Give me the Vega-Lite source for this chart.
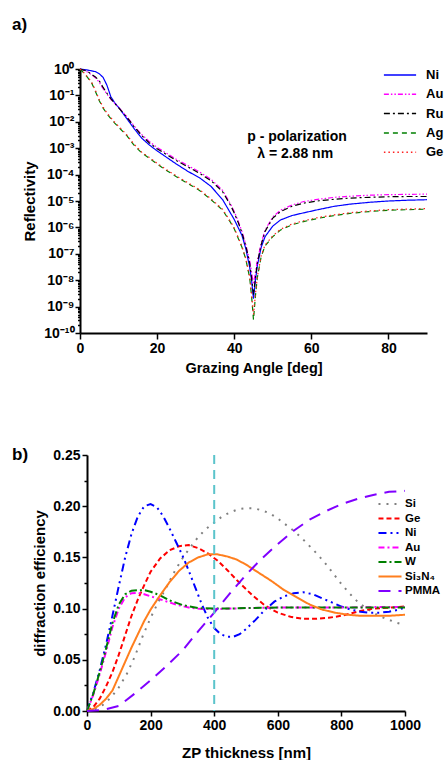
{
"$schema": "https://vega.github.io/schema/vega-lite/v6.json",
"padding": {"left": 12, "top": 16, "right": 0, "bottom": 0},
"background": "white",
"spacing": 71,
"config": {
  "view": {"stroke": null},
  "font": "Liberation Sans",
  "axis": {"grid": false, "domainColor": "black", "domainWidth": 2, "tickColor": "black", "tickWidth": 1.5, "labelColor": "black", "labelFont": "Liberation Sans", "labelFontWeight": "bold", "labelFontSize": 14, "titleColor": "black", "titleFont": "Liberation Sans", "titleFontWeight": "bold", "titleFontSize": 14.5, "labelFlush": false, "labelOverlap": false},
  "legend": {"labelFont": "Liberation Sans", "labelColor": "black", "labelFontWeight": "bold"},
  "title": {"font": "Liberation Sans", "fontWeight": "bold", "fontSize": 17, "color": "black", "anchor": "start", "frame": "group", "baseline": "alphabetic"}
},
"resolve": {"scale": {"color": "independent", "strokeDash": "independent", "x": "independent", "y": "independent"}, "legend": {"color": "independent", "strokeDash": "independent"}},
"vconcat": [
{
  "width": 347, "height": 264,
  "title": {"text": "a)", "dx": -68, "offset": 28},
  "layer": [
    {
      "data": {"values": [
        {"metal":"Ni","angle":0,"R":1},{"metal":"Ni","angle":1,"R":0.955},{"metal":"Ni","angle":2,"R":0.912},{"metal":"Ni","angle":3,"R":0.851},{"metal":"Ni","angle":4,"R":0.794},{"metal":"Ni","angle":5,"R":0.661},{"metal":"Ni","angle":6,"R":0.479},{"metal":"Ni","angle":7,"R":0.24},{"metal":"Ni","angle":8,"R":0.0891},{"metal":"Ni","angle":9,"R":0.0525},{"metal":"Ni","angle":10,"R":0.0355},{"metal":"Ni","angle":12,"R":0.0141},{"metal":"Ni","angle":14,"R":0.00562},{"metal":"Ni","angle":16,"R":0.0024},{"metal":"Ni","angle":18,"R":0.00132},{"metal":"Ni","angle":20,"R":7.94e-4},{"metal":"Ni","angle":22,"R":5.01e-4},{"metal":"Ni","angle":25,"R":2.51e-4},{"metal":"Ni","angle":28,"R":1.32e-4},{"metal":"Ni","angle":31,"R":7.59e-5},{"metal":"Ni","angle":34,"R":3.55e-5},{"metal":"Ni","angle":37,"R":1.12e-5},{"metal":"Ni","angle":39,"R":3.55e-6},{"metal":"Ni","angle":40,"R":2.0e-6},{"metal":"Ni","angle":41,"R":1.0e-6},{"metal":"Ni","angle":42,"R":5.01e-7},{"metal":"Ni","angle":43,"R":1.58e-7},{"metal":"Ni","angle":44,"R":3.16e-8},{"metal":"Ni","angle":44.5,"R":1.0e-8},{"metal":"Ni","angle":45,"R":2.0e-9},{"metal":"Ni","angle":45.5,"R":1.0e-8},{"metal":"Ni","angle":46,"R":3.55e-8},{"metal":"Ni","angle":47,"R":1.78e-7},{"metal":"Ni","angle":48,"R":4.47e-7},{"metal":"Ni","angle":50,"R":1.12e-6},{"metal":"Ni","angle":52,"R":1.91e-6},{"metal":"Ni","angle":55,"R":2.82e-6},{"metal":"Ni","angle":58,"R":3.55e-6},{"metal":"Ni","angle":62,"R":4.79e-6},{"metal":"Ni","angle":66,"R":6.31e-6},{"metal":"Ni","angle":70,"R":7.59e-6},{"metal":"Ni","angle":75,"R":8.91e-6},{"metal":"Ni","angle":80,"R":1.0e-5},{"metal":"Ni","angle":85,"R":1.07e-5},{"metal":"Ni","angle":90,"R":1.12e-5},
        {"metal":"Au","angle":0,"R":1},{"metal":"Au","angle":1,"R":0.891},{"metal":"Au","angle":2,"R":0.759},{"metal":"Au","angle":3,"R":0.603},{"metal":"Au","angle":4,"R":0.468},{"metal":"Au","angle":5,"R":0.316},{"metal":"Au","angle":6,"R":0.178},{"metal":"Au","angle":7,"R":0.112},{"metal":"Au","angle":8,"R":0.0708},{"metal":"Au","angle":9,"R":0.0501},{"metal":"Au","angle":10,"R":0.0355},{"metal":"Au","angle":12,"R":0.0166},{"metal":"Au","angle":14,"R":0.00708},{"metal":"Au","angle":16,"R":0.00331},{"metal":"Au","angle":18,"R":0.00178},{"metal":"Au","angle":20,"R":0.00107},{"metal":"Au","angle":22,"R":7.08e-4},{"metal":"Au","angle":25,"R":3.8e-4},{"metal":"Au","angle":28,"R":2.19e-4},{"metal":"Au","angle":31,"R":1.26e-4},{"metal":"Au","angle":34,"R":6.61e-5},{"metal":"Au","angle":37,"R":2.51e-5},{"metal":"Au","angle":39,"R":7.94e-6},{"metal":"Au","angle":40,"R":3.98e-6},{"metal":"Au","angle":41,"R":1.78e-6},{"metal":"Au","angle":42,"R":7.08e-7},{"metal":"Au","angle":43,"R":2.24e-7},{"metal":"Au","angle":44,"R":5.62e-8},{"metal":"Au","angle":44.5,"R":2.0e-8},{"metal":"Au","angle":45,"R":7.08e-9},{"metal":"Au","angle":45.5,"R":2.0e-8},{"metal":"Au","angle":46,"R":5.62e-8},{"metal":"Au","angle":47,"R":2.51e-7},{"metal":"Au","angle":48,"R":7.94e-7},{"metal":"Au","angle":50,"R":2.51e-6},{"metal":"Au","angle":52,"R":4.47e-6},{"metal":"Au","angle":55,"R":7.08e-6},{"metal":"Au","angle":58,"R":9.55e-6},{"metal":"Au","angle":62,"R":1.17e-5},{"metal":"Au","angle":66,"R":1.38e-5},{"metal":"Au","angle":70,"R":1.51e-5},{"metal":"Au","angle":75,"R":1.66e-5},{"metal":"Au","angle":80,"R":1.74e-5},{"metal":"Au","angle":85,"R":1.78e-5},{"metal":"Au","angle":90,"R":1.82e-5},
        {"metal":"Ru","angle":0,"R":1},{"metal":"Ru","angle":1,"R":0.912},{"metal":"Ru","angle":2,"R":0.794},{"metal":"Ru","angle":3,"R":0.631},{"metal":"Ru","angle":4,"R":0.501},{"metal":"Ru","angle":5,"R":0.355},{"metal":"Ru","angle":6,"R":0.2},{"metal":"Ru","angle":7,"R":0.12},{"metal":"Ru","angle":8,"R":0.0759},{"metal":"Ru","angle":9,"R":0.0501},{"metal":"Ru","angle":10,"R":0.0347},{"metal":"Ru","angle":12,"R":0.0158},{"metal":"Ru","angle":14,"R":0.00661},{"metal":"Ru","angle":16,"R":0.00302},{"metal":"Ru","angle":18,"R":0.00158},{"metal":"Ru","angle":20,"R":9.55e-4},{"metal":"Ru","angle":22,"R":6.31e-4},{"metal":"Ru","angle":25,"R":3.39e-4},{"metal":"Ru","angle":28,"R":1.95e-4},{"metal":"Ru","angle":31,"R":1.12e-4},{"metal":"Ru","angle":34,"R":5.89e-5},{"metal":"Ru","angle":37,"R":2.24e-5},{"metal":"Ru","angle":39,"R":7.08e-6},{"metal":"Ru","angle":40,"R":3.55e-6},{"metal":"Ru","angle":41,"R":1.58e-6},{"metal":"Ru","angle":42,"R":6.31e-7},{"metal":"Ru","angle":43,"R":2.0e-7},{"metal":"Ru","angle":44,"R":4.47e-8},{"metal":"Ru","angle":44.5,"R":1.26e-8},{"metal":"Ru","angle":45,"R":2.82e-9},{"metal":"Ru","angle":45.5,"R":1.26e-8},{"metal":"Ru","angle":46,"R":4.47e-8},{"metal":"Ru","angle":47,"R":2.24e-7},{"metal":"Ru","angle":48,"R":7.08e-7},{"metal":"Ru","angle":50,"R":2.24e-6},{"metal":"Ru","angle":52,"R":3.98e-6},{"metal":"Ru","angle":55,"R":6.31e-6},{"metal":"Ru","angle":58,"R":8.32e-6},{"metal":"Ru","angle":62,"R":1.02e-5},{"metal":"Ru","angle":66,"R":1.17e-5},{"metal":"Ru","angle":70,"R":1.29e-5},{"metal":"Ru","angle":75,"R":1.38e-5},{"metal":"Ru","angle":80,"R":1.45e-5},{"metal":"Ru","angle":85,"R":1.48e-5},{"metal":"Ru","angle":90,"R":1.48e-5},
        {"metal":"Ag","angle":0,"R":1},{"metal":"Ag","angle":1,"R":0.708},{"metal":"Ag","angle":2,"R":0.468},{"metal":"Ag","angle":3,"R":0.302},{"metal":"Ag","angle":4,"R":0.141},{"metal":"Ag","angle":5,"R":0.0631},{"metal":"Ag","angle":6,"R":0.0331},{"metal":"Ag","angle":7,"R":0.02},{"metal":"Ag","angle":8,"R":0.0132},{"metal":"Ag","angle":9,"R":0.00891},{"metal":"Ag","angle":10,"R":0.00631},{"metal":"Ag","angle":12,"R":0.00316},{"metal":"Ag","angle":14,"R":0.00132},{"metal":"Ag","angle":16,"R":6.61e-4},{"metal":"Ag","angle":18,"R":4.17e-4},{"metal":"Ag","angle":20,"R":2.51e-4},{"metal":"Ag","angle":22,"R":1.58e-4},{"metal":"Ag","angle":25,"R":8.32e-5},{"metal":"Ag","angle":28,"R":4.57e-5},{"metal":"Ag","angle":31,"R":2.51e-5},{"metal":"Ag","angle":34,"R":1.12e-5},{"metal":"Ag","angle":37,"R":4.47e-6},{"metal":"Ag","angle":39,"R":1.58e-6},{"metal":"Ag","angle":40,"R":8.91e-7},{"metal":"Ag","angle":41,"R":3.98e-7},{"metal":"Ag","angle":42,"R":1.78e-7},{"metal":"Ag","angle":43,"R":6.31e-8},{"metal":"Ag","angle":44,"R":1.26e-8},{"metal":"Ag","angle":44.5,"R":2.51e-9},{"metal":"Ag","angle":45,"R":3.16e-10},{"metal":"Ag","angle":45.5,"R":2.51e-9},{"metal":"Ag","angle":46,"R":1.26e-8},{"metal":"Ag","angle":47,"R":7.94e-8},{"metal":"Ag","angle":48,"R":2.0e-7},{"metal":"Ag","angle":50,"R":4.47e-7},{"metal":"Ag","angle":52,"R":7.94e-7},{"metal":"Ag","angle":55,"R":1.26e-6},{"metal":"Ag","angle":58,"R":1.66e-6},{"metal":"Ag","angle":62,"R":2.24e-6},{"metal":"Ag","angle":66,"R":2.82e-6},{"metal":"Ag","angle":70,"R":3.39e-6},{"metal":"Ag","angle":75,"R":3.98e-6},{"metal":"Ag","angle":80,"R":4.47e-6},{"metal":"Ag","angle":85,"R":4.68e-6},{"metal":"Ag","angle":90,"R":4.9e-6},
        {"metal":"Ge","angle":0,"R":1},{"metal":"Ge","angle":1,"R":0.724},{"metal":"Ge","angle":2,"R":0.49},{"metal":"Ge","angle":3,"R":0.32},{"metal":"Ge","angle":4,"R":0.155},{"metal":"Ge","angle":5,"R":0.069},{"metal":"Ge","angle":6,"R":0.036},{"metal":"Ge","angle":7,"R":0.0215},{"metal":"Ge","angle":8,"R":0.0142},{"metal":"Ge","angle":9,"R":0.0096},{"metal":"Ge","angle":10,"R":0.0068},{"metal":"Ge","angle":12,"R":0.0034},{"metal":"Ge","angle":14,"R":0.00142},{"metal":"Ge","angle":16,"R":7.1e-4},{"metal":"Ge","angle":18,"R":4.45e-4},{"metal":"Ge","angle":20,"R":2.68e-4},{"metal":"Ge","angle":22,"R":1.69e-4},{"metal":"Ge","angle":25,"R":8.9e-5},{"metal":"Ge","angle":28,"R":4.9e-5},{"metal":"Ge","angle":31,"R":2.69e-5},{"metal":"Ge","angle":34,"R":1.2e-5},{"metal":"Ge","angle":37,"R":4.8e-6},{"metal":"Ge","angle":39,"R":1.7e-6},{"metal":"Ge","angle":40,"R":9.5e-7},{"metal":"Ge","angle":41,"R":4.3e-7},{"metal":"Ge","angle":42,"R":1.9e-7},{"metal":"Ge","angle":43,"R":6.8e-8},{"metal":"Ge","angle":44,"R":1.35e-8},{"metal":"Ge","angle":44.5,"R":2.9e-9},{"metal":"Ge","angle":45,"R":5.0e-10},{"metal":"Ge","angle":45.5,"R":2.9e-9},{"metal":"Ge","angle":46,"R":1.35e-8},{"metal":"Ge","angle":47,"R":8.5e-8},{"metal":"Ge","angle":48,"R":2.15e-7},{"metal":"Ge","angle":50,"R":4.8e-7},{"metal":"Ge","angle":52,"R":8.5e-7},{"metal":"Ge","angle":55,"R":1.35e-6},{"metal":"Ge","angle":58,"R":1.78e-6},{"metal":"Ge","angle":62,"R":2.4e-6},{"metal":"Ge","angle":66,"R":3.0e-6},{"metal":"Ge","angle":70,"R":3.6e-6},{"metal":"Ge","angle":75,"R":4.2e-6},{"metal":"Ge","angle":80,"R":4.7e-6},{"metal":"Ge","angle":85,"R":4.95e-6},{"metal":"Ge","angle":90,"R":5.15e-6}
      ]},
      "mark": {"type": "line", "strokeWidth": 1.2},
      "encoding": {
        "x": {"field": "angle", "type": "quantitative", "scale": {"domain": [0, 90], "nice": false},
          "axis": {"title": "Grazing Angle [deg]", "values": [0,10,20,30,40,50,60,70,80,90], "format": "d", "labelExpr": "datum.value % 20 === 0 ? datum.label : ''", "tickSize": {"condition": {"test": "datum.value % 20 === 0", "value": 6}, "value": 3}, "labelPadding": 2, "titlePadding": 6, "titleFontSize": 14.5}},
        "y": {"field": "R", "type": "quantitative", "scale": {"type": "log", "domain": [1e-10, 1], "nice": false},
          "axis": {"title": "Reflectivity", "titleFontSize": 15, "titlePadding": 6, "labelPadding": 1,
            "values": [1e-10,2e-10,3e-10,4e-10,5e-10,6e-10,7e-10,8e-10,9e-10,1e-9,2e-9,3e-9,4e-9,5e-9,6e-9,7e-9,8e-9,9e-9,1e-8,2e-8,3e-8,4e-8,5e-8,6e-8,7e-8,8e-8,9e-8,1e-7,2e-7,3e-7,4e-7,5e-7,6e-7,7e-7,8e-7,9e-7,1e-6,2e-6,3e-6,4e-6,5e-6,6e-6,7e-6,8e-6,9e-6,1e-5,2e-5,3e-5,4e-5,5e-5,6e-5,7e-5,8e-5,9e-5,1e-4,2e-4,3e-4,4e-4,5e-4,6e-4,7e-4,8e-4,9e-4,1e-3,2e-3,3e-3,4e-3,5e-3,6e-3,7e-3,8e-3,9e-3,1e-2,2e-2,3e-2,4e-2,5e-2,6e-2,7e-2,8e-2,9e-2,0.1,0.2,0.3,0.4,0.5,0.6,0.7,0.8,0.9,1],
            "labelExpr": "abs(log(datum.value)/LN10 - round(log(datum.value)/LN10)) < 0.01 ? ['10⁰','10⁻¹','10⁻²','10⁻³','10⁻⁴','10⁻⁵','10⁻⁶','10⁻⁷','10⁻⁸','10⁻⁹','10⁻¹⁰'][-round(log(datum.value)/LN10)] : ''",
            "tickSize": {"condition": {"test": "abs(log(datum.value)/LN10 - round(log(datum.value)/LN10)) < 0.01", "value": 5}, "value": 2.5}}},
        "color": {"field": "metal", "type": "nominal",
          "scale": {"domain": ["Ni","Au","Ru","Ag","Ge"], "range": ["#0000ff","#ff00ff","#000000","#008000","#ff2020"]},
          "legend": {"title": null, "orient": "none", "legendX": 312, "legendY": -2, "symbolType": "M-2.3,0L2.3,0", "symbolSize": 196, "symbolStrokeWidth": 1.5, "labelFontSize": 13, "labelOffset": 18, "rowPadding": 4.3, "padding": 0}},
        "strokeDash": {"field": "metal", "type": "nominal",
          "scale": {"domain": ["Ni","Au","Ru","Ag","Ge"], "range": [[1,0],[5,2,1.5,2,1.5,2],[6,3,2,3],[5,4],[1.5,3]]},
          "legend": {"title": null, "orient": "none", "legendX": 312, "legendY": -2, "symbolType": "M-2.3,0L2.3,0", "symbolSize": 196, "symbolStrokeWidth": 1.5, "labelFontSize": 13, "labelOffset": 18, "rowPadding": 4.3, "padding": 0}}
      }
    },
    {
      "data": {"values": [{"angle": 56.3, "R": 0.00186, "label": "p - polarization"}, {"angle": 55.8, "R": 0.000427, "label": "λ = 2.88 nm"}]},
      "mark": {"type": "text", "fontSize": 14, "fontWeight": "bold", "font": "Liberation Sans", "baseline": "alphabetic", "align": "center", "color": "black"},
      "encoding": {
        "x": {"field": "angle", "type": "quantitative"},
        "y": {"field": "R", "type": "quantitative"},
        "text": {"field": "label"}
      }
    }
  ]
},
{
  "width": 325, "height": 256,
  "title": {"text": "b)", "dx": -68, "offset": -6, "dy": 10},
  "layer": [
    {
      "data": {"values": [
        {"m":"Si","t":0,"e":0},{"m":"Si","t":25,"e":0.002},{"m":"Si","t":50,"e":0.006},{"m":"Si","t":75,"e":0.013},{"m":"Si","t":100,"e":0.023},{"m":"Si","t":125,"e":0.036},{"m":"Si","t":150,"e":0.053},{"m":"Si","t":175,"e":0.073},{"m":"Si","t":200,"e":0.091},{"m":"Si","t":225,"e":0.107},{"m":"Si","t":250,"e":0.121},{"m":"Si","t":275,"e":0.136},{"m":"Si","t":300,"e":0.149},{"m":"Si","t":325,"e":0.16},{"m":"Si","t":350,"e":0.17},{"m":"Si","t":375,"e":0.178},{"m":"Si","t":400,"e":0.184},{"m":"Si","t":425,"e":0.19},{"m":"Si","t":450,"e":0.194},{"m":"Si","t":475,"e":0.197},{"m":"Si","t":500,"e":0.198},{"m":"Si","t":525,"e":0.198},{"m":"Si","t":550,"e":0.196},{"m":"Si","t":575,"e":0.193},{"m":"Si","t":600,"e":0.188},{"m":"Si","t":625,"e":0.182},{"m":"Si","t":650,"e":0.176},{"m":"Si","t":675,"e":0.169},{"m":"Si","t":700,"e":0.161},{"m":"Si","t":725,"e":0.153},{"m":"Si","t":750,"e":0.144},{"m":"Si","t":775,"e":0.134},{"m":"Si","t":800,"e":0.124},{"m":"Si","t":825,"e":0.115},{"m":"Si","t":850,"e":0.107},{"m":"Si","t":875,"e":0.101},{"m":"Si","t":900,"e":0.096},{"m":"Si","t":925,"e":0.092},{"m":"Si","t":950,"e":0.089},{"m":"Si","t":975,"e":0.086},{"m":"Si","t":1000,"e":0.084},
        {"m":"Ge","t":0,"e":0},{"m":"Ge","t":20,"e":0.004},{"m":"Ge","t":40,"e":0.012},{"m":"Ge","t":60,"e":0.024},{"m":"Ge","t":80,"e":0.038},{"m":"Ge","t":100,"e":0.055},{"m":"Ge","t":120,"e":0.074},{"m":"Ge","t":140,"e":0.093},{"m":"Ge","t":160,"e":0.109},{"m":"Ge","t":180,"e":0.123},{"m":"Ge","t":200,"e":0.136},{"m":"Ge","t":230,"e":0.149},{"m":"Ge","t":260,"e":0.157},{"m":"Ge","t":290,"e":0.161},{"m":"Ge","t":320,"e":0.162},{"m":"Ge","t":350,"e":0.159},{"m":"Ge","t":380,"e":0.154},{"m":"Ge","t":410,"e":0.147},{"m":"Ge","t":440,"e":0.138},{"m":"Ge","t":480,"e":0.125},{"m":"Ge","t":520,"e":0.113},{"m":"Ge","t":560,"e":0.103},{"m":"Ge","t":600,"e":0.096},{"m":"Ge","t":640,"e":0.092},{"m":"Ge","t":680,"e":0.09},{"m":"Ge","t":720,"e":0.09},{"m":"Ge","t":760,"e":0.091},{"m":"Ge","t":800,"e":0.093},{"m":"Ge","t":850,"e":0.097},{"m":"Ge","t":900,"e":0.1},{"m":"Ge","t":950,"e":0.101},{"m":"Ge","t":1000,"e":0.102},
        {"m":"Ni","t":0,"e":0},{"m":"Ni","t":20,"e":0.018},{"m":"Ni","t":40,"e":0.04},{"m":"Ni","t":60,"e":0.065},{"m":"Ni","t":80,"e":0.093},{"m":"Ni","t":100,"e":0.122},{"m":"Ni","t":120,"e":0.15},{"m":"Ni","t":140,"e":0.173},{"m":"Ni","t":160,"e":0.19},{"m":"Ni","t":180,"e":0.2},{"m":"Ni","t":200,"e":0.202},{"m":"Ni","t":220,"e":0.199},{"m":"Ni","t":240,"e":0.19},{"m":"Ni","t":260,"e":0.178},{"m":"Ni","t":280,"e":0.165},{"m":"Ni","t":300,"e":0.152},{"m":"Ni","t":320,"e":0.137},{"m":"Ni","t":340,"e":0.121},{"m":"Ni","t":360,"e":0.105},{"m":"Ni","t":380,"e":0.091},{"m":"Ni","t":400,"e":0.081},{"m":"Ni","t":420,"e":0.075},{"m":"Ni","t":440,"e":0.0725},{"m":"Ni","t":460,"e":0.0725},{"m":"Ni","t":480,"e":0.075},{"m":"Ni","t":500,"e":0.08},{"m":"Ni","t":530,"e":0.089},{"m":"Ni","t":560,"e":0.099},{"m":"Ni","t":590,"e":0.107},{"m":"Ni","t":620,"e":0.112},{"m":"Ni","t":650,"e":0.115},{"m":"Ni","t":680,"e":0.116},{"m":"Ni","t":710,"e":0.114},{"m":"Ni","t":740,"e":0.11},{"m":"Ni","t":770,"e":0.106},{"m":"Ni","t":800,"e":0.102},{"m":"Ni","t":830,"e":0.099},{"m":"Ni","t":860,"e":0.097},{"m":"Ni","t":890,"e":0.096},{"m":"Ni","t":920,"e":0.096},{"m":"Ni","t":950,"e":0.097},{"m":"Ni","t":980,"e":0.099},{"m":"Ni","t":1000,"e":0.101},
        {"m":"Au","t":0,"e":0},{"m":"Au","t":20,"e":0.016},{"m":"Au","t":40,"e":0.036},{"m":"Au","t":60,"e":0.058},{"m":"Au","t":80,"e":0.082},{"m":"Au","t":100,"e":0.1},{"m":"Au","t":120,"e":0.111},{"m":"Au","t":140,"e":0.115},{"m":"Au","t":160,"e":0.1155},{"m":"Au","t":180,"e":0.114},{"m":"Au","t":200,"e":0.112},{"m":"Au","t":240,"e":0.108},{"m":"Au","t":280,"e":0.104},{"m":"Au","t":320,"e":0.101},{"m":"Au","t":360,"e":0.0995},{"m":"Au","t":400,"e":0.0995},{"m":"Au","t":450,"e":0.1},{"m":"Au","t":500,"e":0.1005},{"m":"Au","t":600,"e":0.101},{"m":"Au","t":700,"e":0.101},{"m":"Au","t":800,"e":0.101},{"m":"Au","t":900,"e":0.1015},{"m":"Au","t":1000,"e":0.1015},
        {"m":"W","t":0,"e":0},{"m":"W","t":20,"e":0.017},{"m":"W","t":40,"e":0.038},{"m":"W","t":60,"e":0.061},{"m":"W","t":80,"e":0.086},{"m":"W","t":100,"e":0.104},{"m":"W","t":120,"e":0.114},{"m":"W","t":140,"e":0.1175},{"m":"W","t":160,"e":0.118},{"m":"W","t":180,"e":0.118},{"m":"W","t":200,"e":0.1165},{"m":"W","t":230,"e":0.113},{"m":"W","t":260,"e":0.108},{"m":"W","t":300,"e":0.1035},{"m":"W","t":350,"e":0.1005},{"m":"W","t":400,"e":0.1},{"m":"W","t":450,"e":0.1},{"m":"W","t":500,"e":0.1005},{"m":"W","t":600,"e":0.101},{"m":"W","t":700,"e":0.101},{"m":"W","t":800,"e":0.101},{"m":"W","t":900,"e":0.101},{"m":"W","t":1000,"e":0.101},
        {"m":"Si₃N₄","t":0,"e":0},{"m":"Si₃N₄","t":20,"e":0.002},{"m":"Si₃N₄","t":40,"e":0.006},{"m":"Si₃N₄","t":60,"e":0.012},{"m":"Si₃N₄","t":80,"e":0.02},{"m":"Si₃N₄","t":100,"e":0.034},{"m":"Si₃N₄","t":120,"e":0.048},{"m":"Si₃N₄","t":140,"e":0.062},{"m":"Si₃N₄","t":160,"e":0.075},{"m":"Si₃N₄","t":180,"e":0.088},{"m":"Si₃N₄","t":200,"e":0.099},{"m":"Si₃N₄","t":230,"e":0.113},{"m":"Si₃N₄","t":260,"e":0.126},{"m":"Si₃N₄","t":290,"e":0.137},{"m":"Si₃N₄","t":320,"e":0.145},{"m":"Si₃N₄","t":350,"e":0.15},{"m":"Si₃N₄","t":380,"e":0.153},{"m":"Si₃N₄","t":410,"e":0.153},{"m":"Si₃N₄","t":440,"e":0.151},{"m":"Si₃N₄","t":470,"e":0.148},{"m":"Si₃N₄","t":500,"e":0.143},{"m":"Si₃N₄","t":540,"e":0.135},{"m":"Si₃N₄","t":580,"e":0.127},{"m":"Si₃N₄","t":620,"e":0.118},{"m":"Si₃N₄","t":660,"e":0.111},{"m":"Si₃N₄","t":700,"e":0.104},{"m":"Si₃N₄","t":740,"e":0.099},{"m":"Si₃N₄","t":780,"e":0.096},{"m":"Si₃N₄","t":820,"e":0.094},{"m":"Si₃N₄","t":860,"e":0.093},{"m":"Si₃N₄","t":900,"e":0.093},{"m":"Si₃N₄","t":950,"e":0.093},{"m":"Si₃N₄","t":1000,"e":0.094},
        {"m":"PMMA","t":0,"e":0},{"m":"PMMA","t":50,"e":0.001},{"m":"PMMA","t":100,"e":0.005},{"m":"PMMA","t":150,"e":0.017},{"m":"PMMA","t":200,"e":0.03},{"m":"PMMA","t":250,"e":0.044},{"m":"PMMA","t":300,"e":0.059},{"m":"PMMA","t":350,"e":0.078},{"m":"PMMA","t":400,"e":0.096},{"m":"PMMA","t":450,"e":0.115},{"m":"PMMA","t":500,"e":0.133},{"m":"PMMA","t":550,"e":0.149},{"m":"PMMA","t":600,"e":0.163},{"m":"PMMA","t":650,"e":0.176},{"m":"PMMA","t":700,"e":0.187},{"m":"PMMA","t":750,"e":0.195},{"m":"PMMA","t":800,"e":0.202},{"m":"PMMA","t":850,"e":0.207},{"m":"PMMA","t":900,"e":0.211},{"m":"PMMA","t":950,"e":0.214},{"m":"PMMA","t":1000,"e":0.215}
      ]},
      "mark": {"type": "line", "strokeWidth": 2},
      "encoding": {
        "x": {"field": "t", "type": "quantitative", "scale": {"domain": [0, 1000], "nice": false, "range": [7, 325]},
          "axis": {"title": "ZP thickness [nm]", "values": [0,100,200,300,400,500,600,700,800,900,1000], "format": "d", "labelExpr": "datum.value % 200 === 0 ? datum.label : ''", "tickSize": {"condition": {"test": "datum.value % 200 === 0", "value": 5}, "value": 3}, "labelPadding": 2, "titlePadding": 13, "titleFontSize": 15}},
        "y": {"field": "e", "type": "quantitative", "scale": {"domain": [0, 0.25], "nice": false},
          "axis": {"title": "diffraction efficiency", "offset": -7, "values": [0,0.025,0.05,0.075,0.1,0.125,0.15,0.175,0.2,0.225,0.25], "format": ".2f", "labelExpr": "abs(datum.value*20 - round(datum.value*20)) < 0.001 ? datum.label : ''", "tickSize": {"condition": {"test": "abs(datum.value*20 - round(datum.value*20)) < 0.001", "value": 5}, "value": 3}, "labelPadding": 2, "titlePadding": 5, "titleFontSize": 15}},
        "color": {"field": "m", "type": "nominal",
          "scale": {"domain": ["Si","Ge","Ni","Au","W","Si₃N₄","PMMA"], "range": ["#808080","#ff0000","#0000ff","#ff00ff","#008000","#ff7f1e","#8000ff"]},
          "legend": {"title": null, "orient": "none", "legendX": 303, "legendY": 42, "symbolType": "M-1.92,0L1.92,0", "symbolSize": 144, "symbolStrokeWidth": 2, "labelFontSize": 11.5, "labelOffset": 8, "rowPadding": 1.5, "padding": 0}},
        "strokeDash": {"field": "m", "type": "nominal",
          "scale": {"domain": ["Si","Ge","Ni","Au","W","Si₃N₄","PMMA"], "range": [[2,6],[5,3],[8,4,2,4,2,4],[6,3,2,3],[8,3,2,3],[1,0],[12,8]]},
          "legend": {"title": null, "orient": "none", "legendX": 303, "legendY": 42, "symbolType": "M-1.92,0L1.92,0", "symbolSize": 144, "symbolStrokeWidth": 2, "labelFontSize": 11.5, "labelOffset": 8, "rowPadding": 1.5, "padding": 0}}
      }
    },
    {
      "data": {"values": [{"t": 400}]},
      "mark": {"type": "rule", "color": "#5bc4cb", "strokeWidth": 2, "strokeDash": [9, 6]},
      "encoding": {"x": {"field": "t", "type": "quantitative"}}
    }
  ]
}
]
}
